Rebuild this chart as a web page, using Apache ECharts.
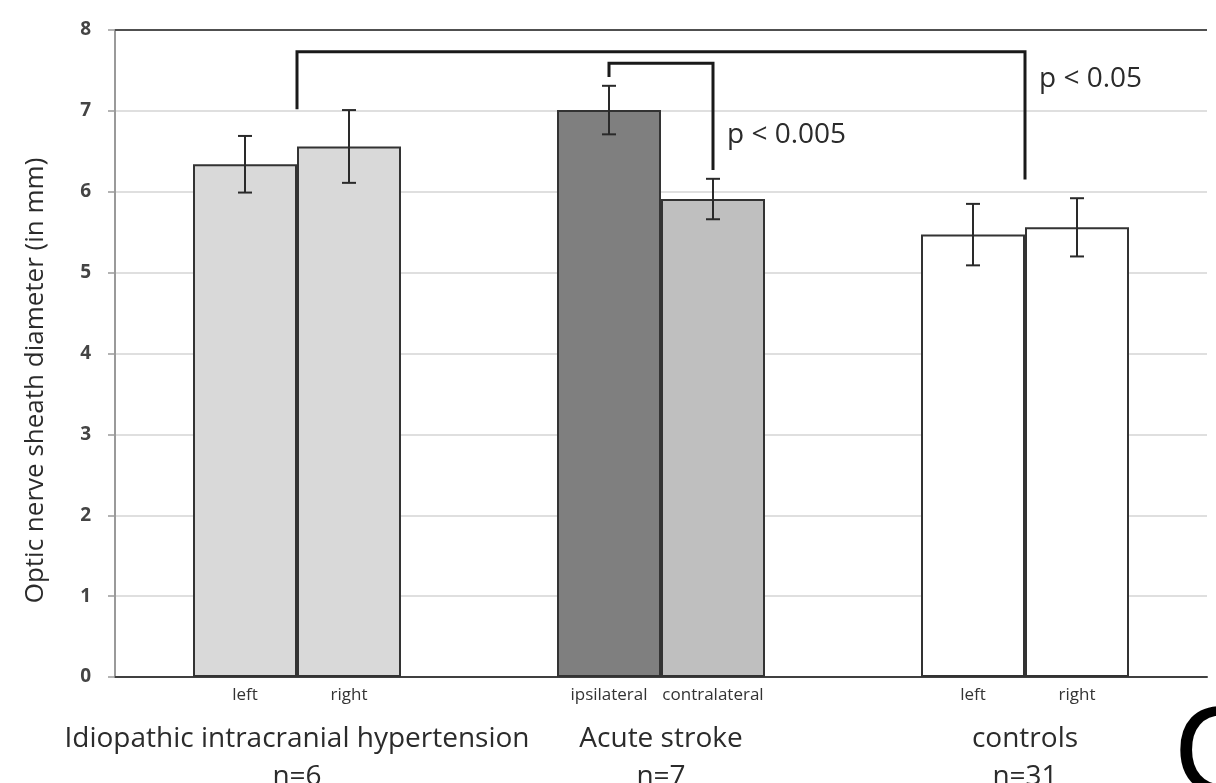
<!DOCTYPE html>
<html>
<head>
<meta charset="utf-8">
<script src="https://cdn.jsdelivr.net/npm/echarts@6/dist/echarts.min.js"></script>
<style>
html,body{margin:0;padding:0;background:#fff;}
#chart{width:1216px;height:783px;}
</style>
</head>
<body>
<div id="chart"></div>
<script>
// ---- data ----
const categories = ['Idiopathic intracranial hypertension\nn=6', 'Acute stroke\nn=7', 'controls\nn=31'];
const firstLabels = ['left', 'ipsilateral', 'left'];
const secondLabels = ['right', 'contralateral', 'right'];
const firstMeans = [6.34, 7.01, 5.47];
const secondMeans = [6.56, 5.91, 5.56];
const firstSD = [0.35, 0.30, 0.38];
const secondSD = [0.45, 0.25, 0.36];
const yTicks = [0, 1, 2, 3, 4, 5, 6, 7, 8];
// significance brackets: [category, side(-1 first bar, 0 group centre, 1 second bar)]
const bracketFrom = [[0, 0], [1, -1]];
const bracketTo = [[2, 0], [1, 1]];
const bracketTopY = [7.73, 7.59];
const bracketLeftEndY = [7.02, 7.42];
const bracketRightEndY = [6.15, 6.27];
const pLabels = ['p < 0.05', 'p < 0.005'];
const pLabelY = [7.39, 6.70];

// ---- styles ----
const firstColors = ['#d9d9d9', '#7f7f7f', '#ffffff'];
const secondColors = ['#d9d9d9', '#bfbfbf', '#ffffff'];
const FONT = 'Open Sans';
const BAR_W = 104;
const HALF = BAR_W / 2;

const errData = [];
categories.forEach((c, i) => {
  errData.push([i, firstMeans[i], firstSD[i], -1]);
  errData.push([i, secondMeans[i], secondSD[i], 1]);
});
const bracketData = bracketFrom.map((f, i) => [f[0], f[1], bracketTo[i][0], bracketTo[i][1], bracketTopY[i], bracketLeftEndY[i], bracketRightEndY[i], pLabelY[i]]);

const chart = echarts.init(document.getElementById('chart'));
chart.setOption({
  animation: false,
  backgroundColor: '#ffffff',
  textStyle: { fontFamily: FONT },
  grid: { left: 115, right: 9, top: 30, bottom: 106, outerBoundsMode: 'none', containLabel: false },
  xAxis: {
    type: 'category',
    data: categories,
    axisTick: { show: false },
    axisLine: { lineStyle: { color: '#404040', width: 2 } },
    axisLabel: { interval: 0, fontSize: 28, lineHeight: 38, margin: 43, color: '#2b2b2b', fontFamily: FONT }
  },
  yAxis: {
    type: 'value',
    min: yTicks[0], max: yTicks[yTicks.length - 1], interval: 1,
    name: 'Optic nerve sheath diameter (in mm)',
    nameLocation: 'middle',
    nameGap: 66,
    nameTextStyle: { fontSize: 26, color: '#2b2b2b', fontFamily: FONT, padding: [0, 54, 0, 0] },
    axisLine: { show: true, lineStyle: { color: '#9a9a9a', width: 2 } },
    axisTick: { show: true, length: 7, lineStyle: { color: '#9a9a9a', width: 1.5 } },
    axisLabel: { fontSize: 19, fontWeight: 'bold', color: '#444', margin: 24, fontFamily: FONT },
    splitLine: { lineStyle: { color: '#d4d4d4', width: 1.5 } }
  },
  series: [
    {
      type: 'bar',
      barWidth: BAR_W,
      barGap: '0%',
      data: firstMeans.map((v, i) => ({ value: v, itemStyle: { color: firstColors[i] } })),
      itemStyle: { borderColor: '#333', borderWidth: 2 },
      label: { show: true, position: 'bottom', distance: 10, fontSize: 17, color: '#333', fontFamily: FONT,
        formatter: p => firstLabels[p.dataIndex] },
      markLine: {
        silent: true, symbol: 'none', label: { show: false },
        lineStyle: { color: '#505050', width: 2, type: 'solid' },
        data: [{ yAxis: yTicks[yTicks.length - 1] }]
      }
    },
    {
      type: 'bar',
      barWidth: BAR_W,
      barGap: '0%',
      data: secondMeans.map((v, i) => ({ value: v, itemStyle: { color: secondColors[i] } })),
      itemStyle: { borderColor: '#333', borderWidth: 2 },
      label: { show: true, position: 'bottom', distance: 10, fontSize: 17, color: '#333', fontFamily: FONT,
        formatter: p => secondLabels[p.dataIndex] }
    },
    {
      type: 'custom',
      z: 5,
      clip: false,
      encode: { x: 0, y: 1 },
      data: errData,
      renderItem: function (params, api) {
        const cat = api.value(0), m = api.value(1), sd = api.value(2), side = api.value(3);
        const top = api.coord([cat, m + sd]);
        const bot = api.coord([cat, m - sd]);
        const x = top[0] + side * HALF;
        const cap = 7;
        const st = { stroke: '#2a2a2a', lineWidth: 2 };
        return {
          type: 'group',
          children: [
            { type: 'line', shape: { x1: x, y1: top[1], x2: x, y2: bot[1] }, style: st },
            { type: 'line', shape: { x1: x - cap, y1: top[1], x2: x + cap, y2: top[1] }, style: st },
            { type: 'line', shape: { x1: x - cap, y1: bot[1], x2: x + cap, y2: bot[1] }, style: st }
          ]
        };
      }
    },
    {
      type: 'custom',
      z: 6,
      clip: false,
      encode: { x: 0, y: 4 },
      data: bracketData,
      renderItem: function (params, api) {
        const i = params.dataIndex;
        const c1 = api.value(0), s1 = api.value(1), c2 = api.value(2), s2 = api.value(3);
        const topV = api.value(4), lV = api.value(5), rV = api.value(6), labV = api.value(7);
        const x1 = api.coord([c1, topV])[0] + s1 * HALF;
        const x2 = api.coord([c2, topV])[0] + s2 * HALF;
        const yTop = api.coord([c1, topV])[1];
        const yL = api.coord([c1, lV])[1];
        const yR = api.coord([c2, rV])[1];
        const yLab = api.coord([c2, labV])[1];
        return {
          type: 'group',
          children: [
            { type: 'polyline', shape: { points: [[x1, yL], [x1, yTop], [x2, yTop], [x2, yR]] },
              style: { stroke: '#1a1a1a', lineWidth: 3, fill: null } },
            { type: 'text', x: x2 + 14, y: yLab,
              style: { text: pLabels[i], fontSize: 28, fontFamily: FONT, fill: '#2b2b2b', align: 'left', verticalAlign: 'middle' } }
          ]
        };
      }
    }
  ],
  graphic: [
    { type: 'text', left: 1174, top: 697, style: { text: 'C', fontSize: 124, fontFamily: 'Liberation Sans', fill: '#000' } }
  ]
});
</script>
</body>
</html>
